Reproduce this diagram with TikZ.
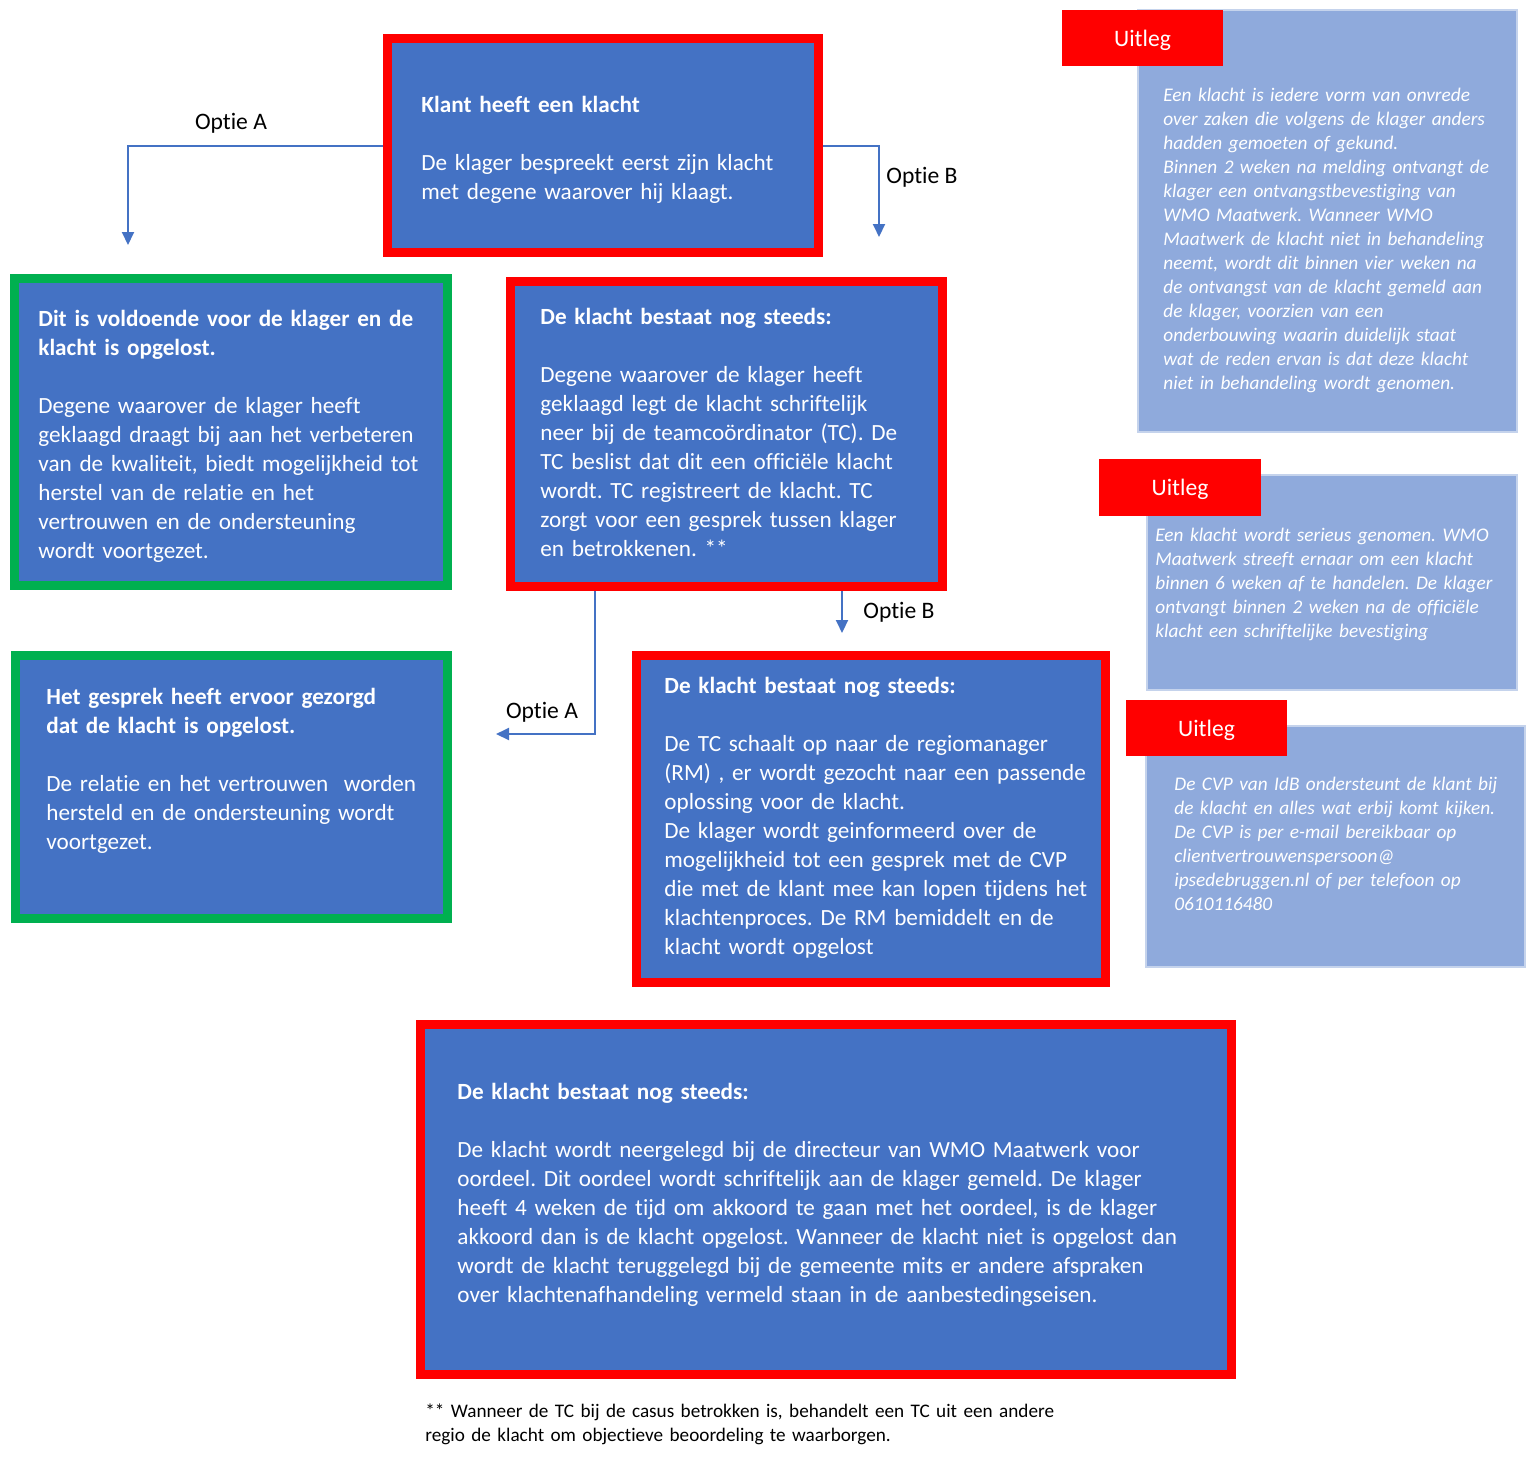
\documentclass[tikz,border=0pt]{standalone}
\usepackage{fontspec}
\setmainfont{Carlito}[Ligatures=NoCommon]
\usetikzlibrary{fit,arrows.meta}
\definecolor{mblue}{HTML}{4472C4}
\definecolor{lblue}{HTML}{8FAADC}
\definecolor{lborder}{HTML}{C5D3EC}
\definecolor{mred}{HTML}{FF0000}
\definecolor{mgreen}{HTML}{00B050}
\definecolor{arrblue}{HTML}{4472C4}
\begin{document}
\frenchspacing
\begin{tikzpicture}[x=0.5pt,y=-0.5pt,
  redbox/.style={draw=mred,line width=4.5pt,fill=mblue,inner sep=0pt},
  greenbox/.style={draw=mgreen,line width=4.5pt,fill=mblue,inner sep=0pt},
  infobox/.style={draw=lborder,line width=0.6pt,fill=lblue,inner sep=0pt},
  labbox/.style={fill=mred,inner sep=0pt},
  maintext/.style={anchor=base west,inner sep=0pt,text width=420pt,align=left,text=white,font=\fontsize{11.6pt}{14.5pt}\selectfont},
  infotext/.style={anchor=base west,inner sep=0pt,text width=300pt,align=left,text=white,font=\fontsize{9.65pt}{12pt}\selectfont\itshape},
  labtext/.style={inner sep=0pt,text=white,font=\fontsize{11.8pt}{14.5pt}\selectfont},
  optlabel/.style={inner sep=0pt,text=black,font=\fontsize{11.8pt}{14.5pt}\selectfont},
  foottext/.style={anchor=base west,inner sep=0pt,text width=400pt,align=left,text=black,font=\fontsize{9.6pt}{12pt}\selectfont},
  arr/.style={draw=arrblue,line width=1pt,-{Triangle[width=6pt,length=6.5pt]}}
]
\useasboundingbox (0,0) rectangle (1535,1467);

% coordinates for arrow ends
\coordinate (a1end) at (128,245);
\coordinate (b1end) at (879,237);
\coordinate (a2end) at (496,734);
\coordinate (b2end) at (842,633);

% connectors (drawn first so the box borders cover their starts)
\coordinate (topW) at (387.5,145.5);
\coordinate (topE) at (818.5,145.5);
\coordinate (midA) at (595,586.5);
\coordinate (midB) at (842,586.5);
\draw[arr] (topW) -| (a1end);
\draw[arr] (topE) -| (b1end);
\draw[arr] (midA) |- (a2end);
\draw[arr] (midB) -- (b2end);

% boxes
\node[redbox,fit={(387.5,38.5) (818.5,252.5)}] (top) {};
\node[greenbox,fit={(14.5,278.5) (447.5,585.5)}] (ok1) {};
\node[redbox,fit={(510.5,281.5) (942.5,586.5)}] (mid) {};
\node[greenbox,fit={(15.5,655.5) (447.5,918.5)}] (ok2) {};
\node[redbox,fit={(636.5,655.5) (1105.5,982.5)}] (rm) {};
\node[redbox,fit={(420.5,1024.5) (1231.5,1374.5)}] (dir) {};

% connector labels
\node[optlabel] (la1) at (231,123.5) {Optie A};
\node[optlabel,anchor=west] (lb1) at (886,177.5) {Optie B};
\node[optlabel] (la2) at (542,712.5) {Optie A};
\node[optlabel,anchor=west] (lb2) at (863,612.5) {Optie B};

% main texts
\node[maintext] (ttop) at (421,112) {\textbf{Klant heeft een klacht}\\[14.5pt]
De klager bespreekt eerst zijn klacht\\
met degene waarover hij klaagt.};

\node[maintext] (tok1) at (38,326) {\textbf{Dit is voldoende voor de klager en de}\\
\textbf{klacht is opgelost.}\\[14.5pt]
Degene waarover de klager heeft\\
geklaagd draagt bij aan het verbeteren\\
van de kwaliteit, biedt mogelijkheid tot\\
herstel van de relatie en het\\
vertrouwen en de ondersteuning\\
wordt voortgezet.};

\node[maintext] (tmid) at (540,324) {\textbf{De klacht bestaat nog steeds:}\\[14.5pt]
Degene waarover de klager heeft\\
geklaagd legt de klacht schriftelijk\\
neer bij de teamcoördinator (TC). De\\
TC beslist dat dit een officiële klacht\\
wordt. TC registreert de klacht. TC\\
zorgt voor een gesprek tussen klager\\
en betrokkenen. **};

\node[maintext] (tok2) at (46,704) {\textbf{Het gesprek heeft ervoor gezorgd}\\
\textbf{dat de klacht is opgelost.}\\[14.5pt]
De relatie en het vertrouwen\ \ worden\\
hersteld en de ondersteuning wordt\\
voortgezet.};

\node[maintext] (trm) at (664,693) {\textbf{De klacht bestaat nog steeds:}\\[14.5pt]
De TC schaalt op naar de regiomanager\\
(RM) , er wordt gezocht naar een passende\\
oplossing voor de klacht.\\
De klager wordt geinformeerd over de\\
mogelijkheid tot een gesprek met de CVP\\
die met de klant mee kan lopen tijdens het\\
klachtenproces. De RM bemiddelt en de\\
klacht wordt opgelost};

\node[maintext,text width=450pt] (tdir) at (457,1099) {\textbf{De klacht bestaat nog steeds:}\\[14.5pt]
De klacht wordt neergelegd bij de directeur van WMO Maatwerk voor\\
oordeel. Dit oordeel wordt schriftelijk aan de klager gemeld. De klager\\
heeft 4 weken de tijd om akkoord te gaan met het oordeel, is de klager\\
akkoord dan is de klacht opgelost. Wanneer de klacht niet is opgelost dan\\
wordt de klacht teruggelegd bij de gemeente mits er andere afspraken\\
over klachtenafhandeling vermeld staan in de aanbestedingseisen.};

% Uitleg boxes
\node[infobox,fit={(1138,10) (1517,432)}] (u1) {};
\node[labbox,fit={(1062,10) (1223,66)}] (u1l) {};
\node[labtext] (u1t) at ([yshift=-1pt]u1l.center) {Uitleg};
\node[infotext] (u1x) at (1163,101) {Een klacht is iedere vorm van onvrede\\
over zaken die volgens de klager anders\\
hadden gemoeten of gekund.\\
Binnen 2 weken na melding ontvangt de\\
klager een ontvangstbevestiging van\\
WMO Maatwerk. Wanneer WMO\\
Maatwerk de klacht niet in behandeling\\
neemt, wordt dit binnen vier weken na\\
de ontvangst van de klacht gemeld aan\\
de klager, voorzien van een\\
onderbouwing waarin duidelijk staat\\
wat de reden ervan is dat deze klacht\\
niet in behandeling wordt genomen.};

\node[infobox,fit={(1147,475) (1517,690)}] (u2) {};
\node[labbox,fit={(1099,459) (1261,516)}] (u2l) {};
\node[labtext] (u2t) at ([yshift=-1pt]u2l.center) {Uitleg};
\node[infotext] (u2x) at (1155,541) {Een klacht wordt serieus genomen. WMO\\
Maatwerk streeft ernaar om een klacht\\
binnen 6 weken af te handelen. De klager\\
ontvangt binnen 2 weken na de officiële\\
klacht een schriftelijke bevestiging};

\node[infobox,fit={(1146,726) (1525,967)}] (u3) {};
\node[labbox,fit={(1126,700) (1287,756)}] (u3l) {};
\node[labtext] (u3t) at ([yshift=-1pt]u3l.center) {Uitleg};
\node[infotext] (u3x) at (1174,790) {De CVP van IdB ondersteunt de klant bij\\
de klacht en alles wat erbij komt kijken.\\
De CVP is per e-mail bereikbaar op\\
clientvertrouwenspersoon@\\
ipsedebruggen.nl of per telefoon op\\
0610116480};

% footnote
\node[foottext] (foot) at (425,1417) {** Wanneer de TC bij de casus betrokken is, behandelt een TC uit een andere\\
regio de klacht om objectieve beoordeling te waarborgen.};
\end{tikzpicture}
\end{document}
